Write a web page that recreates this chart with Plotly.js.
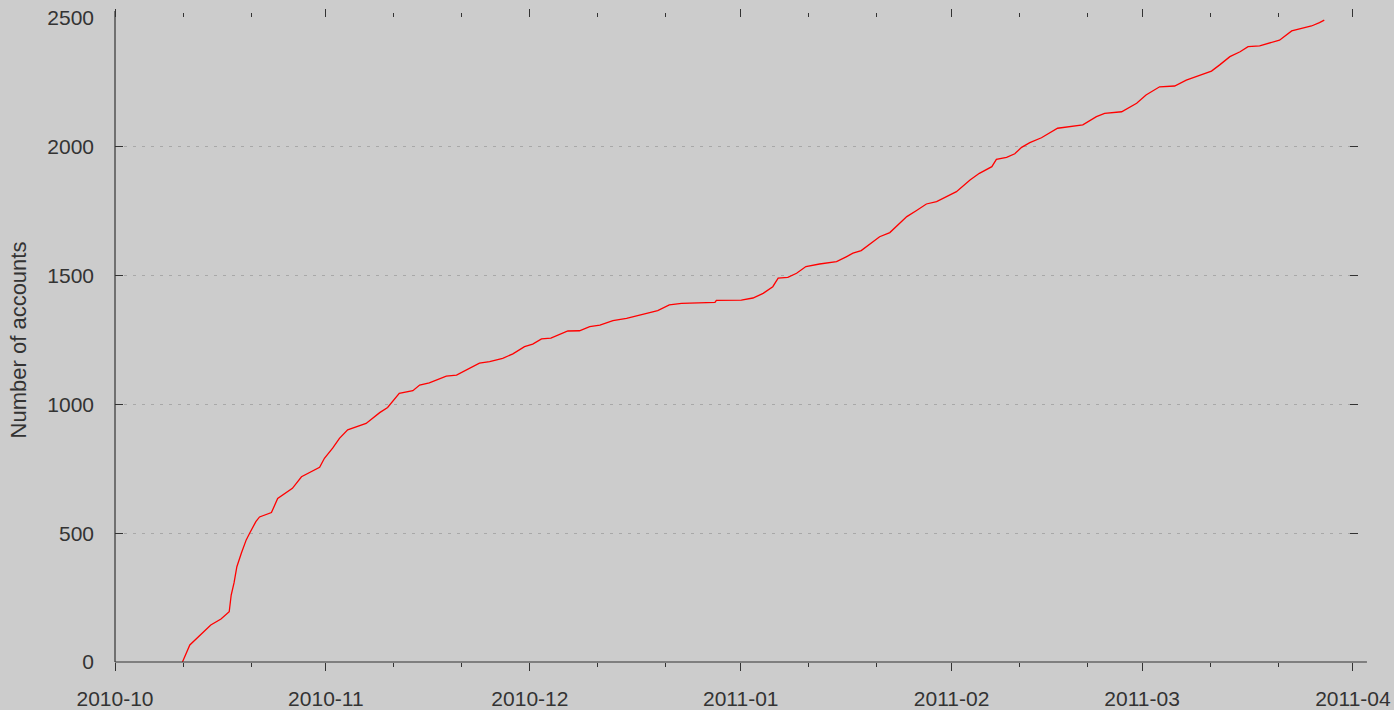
<!DOCTYPE html>
<html>
<head>
<meta charset="utf-8">
<script src="https://cdn.plot.ly/plotly-3.0.1.min.js"></script>
<style>html,body{margin:0;padding:0;background:#cccccc;}#chart{width:1394px;height:710px;}</style>
</head>
<body>
<div id="chart"></div>
<script>
// Cumulative number of accounts over time
var dates = [
  "2010-10-10 22:00","2010-10-12 00:00","2010-10-15 02:00","2010-10-16 14:00","2010-10-17 19:00",
  "2010-10-18 02:00","2010-10-18 12:00","2010-10-18 22:00","2010-10-19 14:00","2010-10-20 07:00",
  "2010-10-20 19:00","2010-10-21 17:00","2010-10-22 06:00","2010-10-24 00:00","2010-10-24 22:00",
  "2010-10-27 02:00","2010-10-28 10:00","2010-10-31 02:00","2010-10-31 19:00","2010-11-02 00:00",
  "2010-11-03 00:00","2010-11-04 05:00","2010-11-06 22:00","2010-11-08 22:00","2010-11-10 02:00",
  "2010-11-10 22:00","2010-11-11 19:00","2010-11-13 19:00","2010-11-14 19:00","2010-11-16 05:00",
  "2010-11-18 17:00","2010-11-20 05:00","2010-11-22 10:00","2010-11-23 14:00","2010-11-25 02:00",
  "2010-11-27 00:00","2010-11-28 12:00","2010-11-30 05:00","2010-12-01 10:00","2010-12-02 17:00",
  "2010-12-04 02:00","2010-12-05 10:00","2010-12-06 14:00","2010-12-08 07:00","2010-12-09 19:00",
  "2010-12-11 07:00","2010-12-13 05:00","2010-12-15 05:00","2010-12-16 14:00","2010-12-18 02:00",
  "2010-12-19 19:00","2010-12-21 12:00","2010-12-23 07:00","2010-12-28 05:00","2010-12-28 10:00",
  "2011-01-01 02:00","2011-01-02 19:00","2011-01-04 07:00","2011-01-05 17:00","2011-01-06 12:00",
  "2011-01-07 22:00","2011-01-09 05:00","2011-01-10 14:00","2011-01-12 14:00","2011-01-15 02:00",
  "2011-01-16 12:00","2011-01-17 12:00","2011-01-18 17:00","2011-01-20 05:00","2011-01-21 10:00",
  "2011-01-22 22:00","2011-01-25 10:00","2011-01-26 19:00","2011-01-28 07:00","2011-01-29 19:00",
  "2011-01-31 05:00","2011-02-01 17:00","2011-02-03 17:00","2011-02-05 02:00","2011-02-06 22:00",
  "2011-02-07 14:00","2011-02-09 02:00","2011-02-10 07:00","2011-02-11 07:00","2011-02-12 12:00",
  "2011-02-14 05:00","2011-02-16 14:00","2011-02-20 07:00","2011-02-22 07:00","2011-02-23 12:00",
  "2011-02-26 00:00","2011-02-28 05:00","2011-03-01 14:00","2011-03-03 14:00","2011-03-05 19:00",
  "2011-03-07 12:00","2011-03-09 12:00","2011-03-11 05:00","2011-03-12 10:00","2011-03-13 22:00",
  "2011-03-15 10:00","2011-03-16 14:00","2011-03-18 07:00","2011-03-19 19:00","2011-03-21 05:00",
  "2011-03-23 00:00","2011-03-24 05:00","2011-03-25 22:00","2011-03-27 02:00","2011-03-27 19:00"
];
var accounts = [
  0,66,144,167,195,
  260,307,370,423,474,
  500,545,563,580,635,
  674,719,756,791,830,
  868,901,926,968,988,
  1017,1043,1053,1075,1084,
  1110,1114,1146,1160,1166,
  1179,1196,1224,1234,1254,
  1257,1271,1285,1286,1302,
  1308,1325,1334,1343,1354,
  1364,1386,1392,1396,1404,
  1405,1413,1431,1457,1490,
  1493,1509,1535,1545,1554,
  1573,1587,1597,1628,1651,
  1667,1729,1752,1778,1787,
  1806,1826,1871,1897,1923,
  1951,1959,1973,1998,2016,
  2035,2072,2085,2117,2130,
  2136,2169,2201,2233,2236,
  2259,2279,2294,2318,2350,
  2369,2389,2392,2404,2414,
  2450,2457,2469,2482,2492
];
var monthTicks = ["2010-10-01","2010-11-01","2010-12-01","2011-01-01","2011-02-01","2011-03-01","2011-04-01"];
var monthLabels = ["2010-10","2010-11","2010-12","2011-01","2011-02","2011-03","2011-04"];
var minorTicks = ["2010-10-11","2010-10-21","2010-11-11","2010-11-21","2010-12-11","2010-12-21",
                  "2011-01-11","2011-01-21","2011-02-11","2011-02-21","2011-03-11","2011-03-21"];
var yTicks = [0,500,1000,1500,2000,2500];
var yLabels = ["0","500","1000","1500","2000","2500"];

var xRange = ["2010-10-01 00:00","2011-04-01 18:00"];
var yRange = [0,2500];
var ink = "#333333";
var font = {family:"Liberation Sans, Arial, sans-serif", size:21, color:ink};

var trace = {
  x: dates, y: accounts, type:"scatter", mode:"lines",
  line:{color:"#ff0000", width:1.3}, hoverinfo:"skip", showlegend:false
};

var layout = {
  width:1394, height:710,
  paper_bgcolor:"#cccccc", plot_bgcolor:"#cccccc",
  margin:{l:115, r:36, t:18, b:48, pad:0},
  font: font,
  showlegend:false,
  xaxis:{
    type:"date", range:xRange, tickmode:"array", tickvals:monthTicks, ticktext:monthLabels,
    ticks:"outside", ticklen:8, tickwidth:1, tickcolor:ink, ticklabelstandoff:10,
    mirror:"ticks", showline:false,
    showgrid:false, zeroline:false, tickfont:font,
    minor:{tickmode:"array", tickvals:minorTicks, ticks:"outside", ticklen:4, tickwidth:1, tickcolor:ink, showgrid:false}
  },
  yaxis:{
    range:yRange, tickmode:"array", tickvals:yTicks, ticktext:yLabels,
    ticks:"inside", ticklen:8, tickwidth:1, tickcolor:ink, ticklabelstandoff:20,
    mirror:"ticks", showline:false,
    showgrid:true, gridcolor:"#a8a8a8", gridwidth:1, griddash:"3px,6px",
    zeroline:false, tickfont:font,
    title:{text:"Number of accounts", font:{family:"Liberation Sans, Arial, sans-serif", size:22, color:ink}, standoff:14},
    automargin:false
  },
  shapes:[
    {type:"line", xref:"paper", yref:"paper", x0:0, x1:1.0072, y0:0, y1:0, line:{color:ink, width:1.2}},
    {type:"line", xref:"paper", yref:"paper", x0:0, x1:0, y0:0, y1:1.0109, line:{color:ink, width:1.2}}
  ]
};

Plotly.newPlot("chart", [trace], layout, {staticPlot:true, displayModeBar:false});
</script>
</body>
</html>
